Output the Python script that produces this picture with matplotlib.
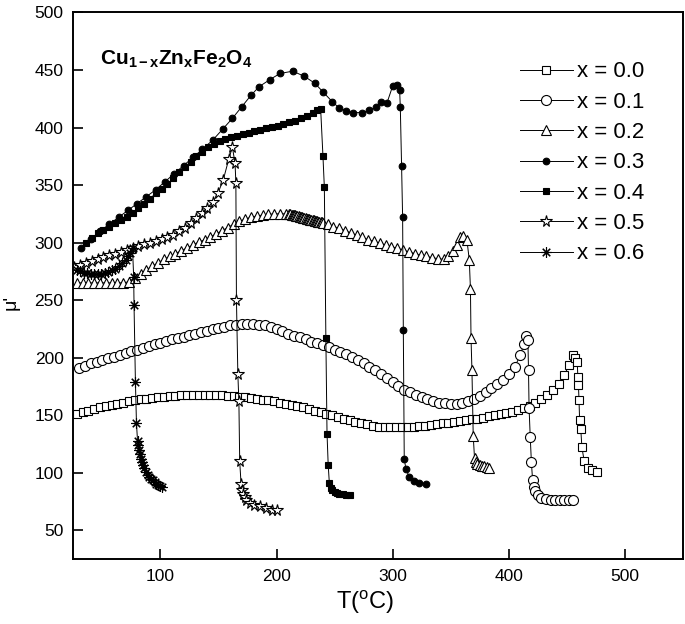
import matplotlib
matplotlib.use("Agg")
import matplotlib.pyplot as plt

plt.rcParams["font.family"] = ["Liberation Sans", "DejaVu Sans"]
plt.rcParams["mathtext.fontset"] = "custom"
plt.rcParams["mathtext.rm"] = "Liberation Sans"
plt.rcParams["mathtext.bf"] = "Liberation Sans:bold"
plt.rcParams["mathtext.it"] = "Liberation Sans:italic"

# x = 0.0  (open squares)
T0 = [28, 33, 38, 43, 48, 53, 58, 63, 68, 73, 78, 83, 88, 93, 98, 103, 108, 113,
      118, 123, 128, 133, 138, 143, 148, 153, 158, 163, 168, 173, 178, 183, 188,
      193, 198, 203, 208, 213, 218, 223, 228, 233, 238, 243, 248, 253, 258, 263,
      268, 273, 278, 283, 288, 293, 298, 303, 308, 313, 318, 323, 328, 333, 338,
      343, 348, 353, 358, 363, 368, 373, 378, 383, 388, 393, 398, 403, 408, 413,
      418, 423, 428, 433, 438, 443, 448, 452, 455, 457, 459, 459.5, 460, 460.5,
      461, 462, 463, 465, 468, 472, 476]
mu0 = [151, 152.5, 154, 155.5, 157, 158, 159, 160, 161, 162, 163, 164, 164.5, 165,
       165.5, 166, 166.5, 167, 167.5, 167.5, 168, 168, 168, 168, 168, 167.5, 167,
       166.5, 166, 165.5, 165, 164, 163.5, 163, 162, 161, 160, 159, 158, 157,
       155.5, 154, 153, 151.5, 150, 148.5, 147, 145.5, 144, 143, 142, 141, 140,
       139.5, 139.5, 139.5, 139.5, 139.5, 140, 140.5, 141, 141.5, 142, 143, 143.5,
       144, 145, 146, 146.5, 147, 148, 149, 150, 151, 152, 153, 154.5, 156, 158,
       161, 164, 167.5, 172, 177, 185, 194, 202, 200, 196, 183, 176, 163, 146,
       138, 122, 110, 104, 102, 101]

# x = 0.1  (open circles)
T1 = [30, 35, 40, 45, 50, 55, 60, 65, 70, 75, 80, 85, 90, 95, 100, 105, 110, 115,
      120, 125, 130, 135, 140, 145, 150, 155, 160, 165, 170, 175, 180, 185, 190,
      195, 200, 205, 210, 215, 220, 225, 230, 235, 240, 245, 250, 255, 260, 265,
      270, 275, 280, 285, 290, 295, 300, 305, 310, 315, 320, 325, 330, 335, 340,
      345, 350, 355, 360, 365, 370, 375, 380, 385, 390, 395, 400, 405, 410,
      413, 415, 416.5, 417, 417.5, 418.5, 419.5, 420.5, 421.5, 423, 425, 428,
      432, 436, 440, 444, 448, 452, 455]
mu1 = [191, 193, 195, 196.5, 198, 199.5, 201, 202.5, 204, 205.5, 207, 208.5, 210,
       211.5, 213, 214.5, 216, 217, 218, 219.5, 221, 222, 223.5, 225, 226, 227,
       228, 228.5, 229, 229, 229, 228.5, 228, 227, 225, 223, 221, 219, 218, 216,
       214, 212.5, 211, 209, 207, 205, 203, 200.5, 198, 195, 192, 189, 186, 182,
       179, 175.5, 172, 170, 168, 166, 164, 162.5, 161, 160.5, 160, 160, 161,
       162.5, 164.5, 167, 170, 173.5, 177, 181, 186, 192, 202,
       212, 219, 215, 189, 156, 131, 109, 94, 88, 84, 81, 78.5,
       77, 76.5, 76, 76, 76, 76, 76]

# x = 0.2  (open triangles)
T2 = [28, 33, 38, 43, 48, 53, 58, 63, 68, 73, 78, 83, 88, 93, 98, 103, 108, 113,
      118, 123, 128, 133, 138, 143, 148, 153, 158, 163, 168, 173, 178, 183, 188,
      193, 198, 203, 208,
      211, 212, 213, 214, 215, 216, 217, 218, 219, 220, 221, 222, 223, 224, 225,
      226, 227, 228, 229, 230, 231, 232, 233, 234, 235, 236, 237, 238, 239, 240,
      244, 249, 254, 259, 264, 269, 274, 279, 284, 289, 294, 299, 304, 309, 314,
      319, 324, 329, 334, 339, 344,
      348, 352, 355, 358, 361, 364, 366, 367, 367.5, 368.3, 369.4, 370.5, 371.5,
      373, 375, 377, 379, 381, 383]
mu2 = [265, 265, 265, 265, 265, 265, 265, 265, 265, 266, 269, 273, 276.5, 279.5,
       282.5, 285.5, 288, 290.5, 293, 295.5, 298, 300.5, 302.5, 305, 307.5, 310.5,
       313, 316, 318.5, 320.5, 322, 323, 324, 324.5, 325, 325, 325,
       325, 324.7, 324.4, 324.2, 323.9, 323.6, 323.4, 323.1, 322.8, 322.6, 322.3,
       322, 321.7, 321.5, 321.2, 320.9, 320.7, 320.4, 320.1, 319.9, 319.6, 319.3,
       319.1, 318.8, 318.5, 318.3, 318, 317.7, 317.5, 317.2,
       316, 314, 312.5, 310.5, 308.5, 306.5, 304.5, 302.5, 301, 299.5, 298, 296.5,
       295, 293.5, 292, 290.5, 289, 288, 287, 286, 285.5,
       288, 293, 298, 305, 306, 302, 285, 260, 217, 189, 132, 113, 109,
       108, 107, 106, 105.5, 105, 104.5]

# x = 0.3  (filled circles)
T3 = [32, 40, 48, 56, 64, 72, 80, 88, 96, 104, 112, 120, 128, 136, 145, 154, 162,
      170, 178, 185, 194, 203, 214, 224, 233, 240, 248, 254, 260, 266, 274, 280,
      286, 290, 295, 300, 304, 306, 306.6, 307.7, 308.6, 309.2, 310, 311.5, 314.5,
      318.5, 323, 328.5]
mu3 = [295, 303, 310, 316, 322, 328, 334, 340, 346, 353, 360, 367, 374, 381, 389,
       399, 408, 418, 428, 435.5, 441.5, 447, 449, 444.5, 438.5, 431, 422.5, 417,
       414.5, 413, 413, 415, 418, 422.5, 421, 436, 437, 433, 418, 367, 322, 224,
       112, 103, 96, 93, 91.5, 90.5]

# x = 0.4  (filled squares)
T4 = [36, 41, 46, 51, 56, 61, 66, 71, 76, 81, 86, 91, 96, 101, 106, 111, 116, 121,
      126, 131, 136, 141, 146, 151, 156, 161, 166, 171, 176, 181, 186, 191, 196,
      201, 206, 211, 216, 221, 226, 231, 235, 238, 240, 241.2, 242.5, 243.5,
      244.5, 245.5, 246.5, 248, 250, 252, 254, 257, 260, 263]
mu4 = [300, 304, 308, 311, 314, 317, 320, 322, 326, 330, 334, 338, 343, 347, 351,
       356, 361, 366, 370, 375, 379, 383, 386, 388.5, 390, 391.5, 393, 394, 395.5,
       397, 398, 399.5, 400.5, 401.5, 403, 404.5, 406, 408, 410, 413, 415, 416.5,
       375, 348, 217, 134, 107, 91, 87, 85, 83.5, 82.5, 82, 81.5, 81, 80.5]

# x = 0.5  (open stars)
T5 = [26, 31, 36, 41, 46, 51, 56, 61, 66, 71, 76, 81, 86, 91, 96, 101, 106, 111,
      116, 121, 126, 131, 136, 140, 145, 149.5, 154, 159, 162, 164.3, 165, 165.5,
      166.7, 167.6, 168.3, 169.5, 170.5, 171.5, 172.5, 174, 177, 181, 186, 191,
      196, 200]
mu5 = [279, 281, 282.5, 284, 286, 287.5, 289, 290.5, 292, 294, 295.5, 297, 298.5,
       300, 301.5, 303, 305, 307, 310, 313, 317, 321, 326, 330, 335, 343, 354, 373,
       383, 369, 352, 250, 186, 162, 110, 90, 85, 82, 79, 76, 74, 72, 71, 69.5, 68,
       67.5]

# x = 0.6  (asterisks)
T6 = [28, 31, 34, 37, 40, 43, 46, 49, 52, 55, 58, 61, 64, 67, 70, 72, 74, 76, 77,
      77.3, 78.5, 79.4, 80.3, 81, 81.7, 82.4, 83.2, 84, 85, 86, 87.5, 89, 90.5, 92,
      93.5, 95, 96.5, 98, 99.5, 101]
mu6 = [276, 275, 274, 273.5, 273, 272.5, 272.5, 273, 273.5, 274.5, 276, 277.5,
       279.5, 282, 285, 288, 291, 295, 270, 246, 179, 143, 128, 124, 120, 116, 112,
       109, 106.5, 104, 101, 98.5, 96.5, 95, 93.5, 92, 90.5, 89.5, 88.5, 88]

labels = ["x = 0.0", "x = 0.1", "x = 0.2", "x = 0.3", "x = 0.4", "x = 0.5", "x = 0.6"]
xticks = [100, 200, 300, 400, 500]
yticks = [50, 100, 150, 200, 250, 300, 350, 400, 450, 500]

series = [
    (T0, mu0, "s", 6.0, "white"),
    (T1, mu1, "o", 7.2, "white"),
    (T2, mu2, "^", 7.4, "white"),
    (T3, mu3, "o", 4.8, "black"),
    (T4, mu4, "s", 5.0, "black"),
    (T5, mu5, "*", 8.5, "white"),
    (T6, mu6, (8, 2, 0), 7.5, "black"),
]

fig = plt.figure(figsize=(6.85, 6.24), dpi=100)
ax = fig.add_axes([0.107, 0.104, 0.890, 0.876])

for (ts, ms, mk, sz, fc), lab in zip(series, labels):
    ax.plot(ts, ms, color="black", lw=0.7, marker=mk, markersize=sz,
            markerfacecolor=fc, markeredgecolor="black", markeredgewidth=0.8,
            label=lab)

ax.set_xlim(25, 550)
ax.set_ylim(25, 500)
ax.set_xticks(xticks)
ax.set_yticks(yticks)
ax.tick_params(direction="in", length=7, width=1.2, labelsize=12.5, pad=7)
for sp in ax.spines.values():
    sp.set_linewidth(1.4)

ax.set_xlabel(r"T($^{\rm o}$C)", fontsize=17)
ax.xaxis.set_label_coords(0.478, -0.055)
ax.set_ylabel("\u03bc'", fontsize=14)
ax.yaxis.set_label_coords(-0.088, 0.47)

ax.text(0.044, 0.905, r"$\mathbf{Cu_{1-x}Zn_{x}Fe_{2}O_{4}}$", fontsize=15,
        transform=ax.transAxes, ha="left", va="baseline")

ax.legend(loc="upper left", bbox_to_anchor=(0.714, 0.931), frameon=False,
          fontsize=16, handlelength=2.4, handletextpad=0.2, labelspacing=0.42,
          borderpad=0, numpoints=1)

fig.savefig("out.png", dpi=100)
